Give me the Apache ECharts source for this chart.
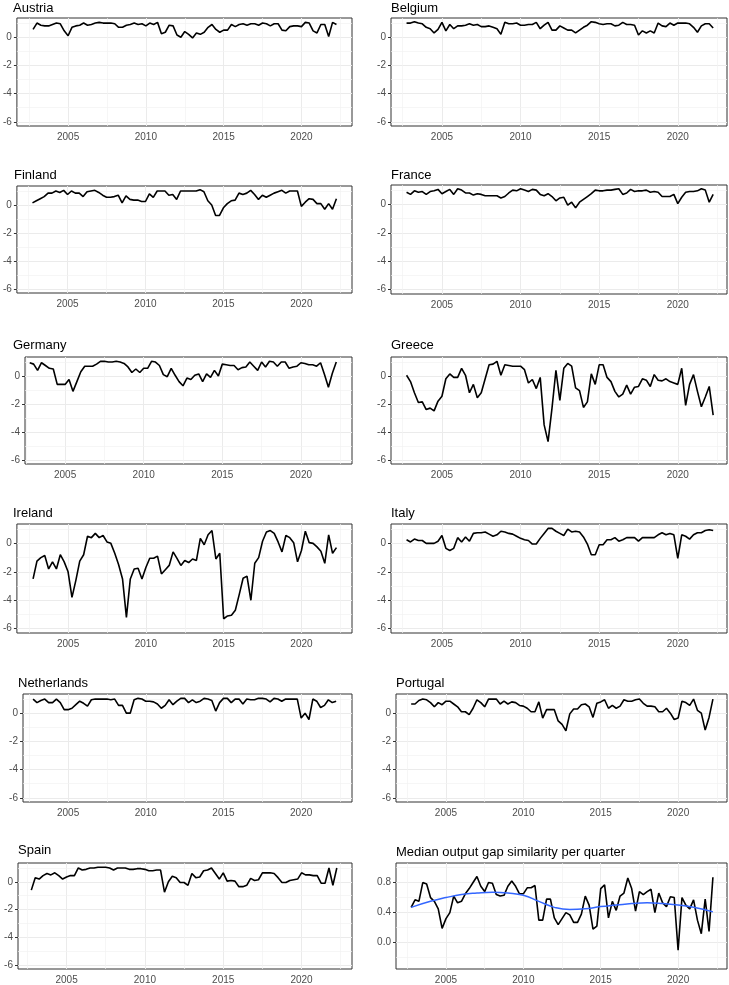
<!DOCTYPE html>
<html><head><meta charset="utf-8">
<script src="https://cdn.jsdelivr.net/npm/echarts@6/dist/echarts.min.js"></script>
<style>html,body{margin:0;padding:0;background:#fff}#c{width:729px;height:985px}</style>
</head><body><div id="c"></div>
<script>
const quarters = ["2002Q4",
"2003Q1","2003Q2","2003Q3","2003Q4","2004Q1","2004Q2","2004Q3","2004Q4",
"2005Q1","2005Q2","2005Q3","2005Q4","2006Q1","2006Q2","2006Q3","2006Q4",
"2007Q1","2007Q2","2007Q3","2007Q4","2008Q1","2008Q2","2008Q3","2008Q4",
"2009Q1","2009Q2","2009Q3","2009Q4","2010Q1","2010Q2","2010Q3","2010Q4",
"2011Q1","2011Q2","2011Q3","2011Q4","2012Q1","2012Q2","2012Q3","2012Q4",
"2013Q1","2013Q2","2013Q3","2013Q4","2014Q1","2014Q2","2014Q3","2014Q4",
"2015Q1","2015Q2","2015Q3","2015Q4","2016Q1","2016Q2","2016Q3","2016Q4",
"2017Q1","2017Q2","2017Q3","2017Q4","2018Q1","2018Q2","2018Q3","2018Q4",
"2019Q1","2019Q2","2019Q3","2019Q4","2020Q1","2020Q2","2020Q3","2020Q4",
"2021Q1","2021Q2","2021Q3","2021Q4","2022Q1","2022Q2"];

const austria = [0.55,1.0,0.85,0.8,0.8,0.9,1.0,0.95,0.45,0.1,
0.7,0.8,0.85,1.0,0.85,0.9,1.0,1.05,1.0,1.0,
1.0,0.95,0.7,0.7,0.85,0.9,1.0,0.9,0.95,0.8,
1.0,0.9,1.05,0.25,0.35,0.85,0.8,0.15,0.0,0.4,
0.2,-0.05,0.3,0.2,0.35,0.7,0.9,0.55,0.35,0.5,
0.5,0.9,0.75,0.9,0.95,0.85,0.95,0.95,0.85,1.0,
0.95,0.8,0.95,0.95,0.5,0.45,0.75,0.8,0.8,0.75,
1.05,1.0,0.45,0.3,0.9,0.9,0.05,1.05,0.9];
const belgium = [1.0,1.0,1.1,1.0,0.95,0.7,0.6,0.3,0.55,1.05,
0.45,0.9,0.6,0.8,0.8,0.85,0.95,0.85,0.9,0.75,
0.75,0.8,0.7,0.6,0.2,1.05,0.95,0.95,1.0,0.85,
0.85,0.9,0.9,1.05,0.6,0.85,1.05,0.5,0.5,0.8,
0.65,0.5,0.5,0.3,0.5,0.7,0.85,1.1,1.05,0.95,
0.9,0.95,0.95,0.8,0.85,1.05,0.9,0.9,0.85,0.15,
0.45,0.3,0.45,0.3,1.0,0.8,0.75,1.0,0.85,1.0,
1.0,1.0,0.95,0.7,0.35,0.8,0.95,0.95,0.65];
const finland = [0.15,0.3,0.45,0.6,0.85,0.85,1.0,0.9,1.05,0.75,
1.0,0.85,0.85,0.6,0.95,1.0,1.05,0.9,0.7,0.55,
0.55,0.6,0.7,0.15,0.65,0.4,0.35,0.35,0.25,0.25,
0.8,0.55,1.0,1.0,1.0,0.7,0.75,0.4,1.0,1.0,
1.0,1.0,1.0,1.1,0.95,0.3,0.0,-0.75,-0.75,-0.2,
0.1,0.3,0.35,0.85,0.75,0.85,1.05,0.75,0.4,0.7,
0.55,0.7,0.85,0.95,1.05,0.85,1.0,1.0,1.0,-0.1,
0.2,0.45,0.4,0.1,0.1,-0.3,0.1,-0.3,0.45];
const france = [0.85,0.7,0.95,0.85,0.9,0.7,0.9,0.95,1.05,0.75,
0.9,1.05,0.7,1.1,1.0,0.8,0.8,0.65,0.75,0.7,
0.6,0.6,0.6,0.6,0.45,0.55,0.8,1.0,0.95,1.1,
1.0,0.9,1.05,1.0,0.7,0.6,0.75,0.55,0.25,0.45,
0.5,-0.05,0.15,-0.25,0.15,0.35,0.55,0.75,1.0,0.95,
0.95,1.0,1.0,1.05,1.1,0.7,0.8,1.05,0.9,0.95,
0.95,1.0,0.85,0.9,0.85,0.55,0.55,0.55,0.7,0.05,
0.5,0.85,0.9,0.9,0.95,1.1,1.0,0.15,0.7];
const germany = [0.95,0.85,0.4,0.95,0.75,0.55,0.5,-0.6,-0.6,-0.6,
-0.25,-1.1,-0.4,0.3,0.7,0.7,0.7,0.85,1.05,1.05,
1.0,1.0,1.05,1.0,0.9,0.65,0.25,0.5,0.25,0.55,
0.55,1.05,1.0,0.75,0.1,-0.05,0.55,0.05,-0.4,-0.7,
-0.15,-0.25,0.05,0.15,-0.4,0.15,-0.1,0.4,0.0,0.85,
0.8,0.75,0.75,0.45,0.6,0.65,1.0,0.7,0.4,1.0,
0.65,1.05,1.0,0.7,1.0,1.0,0.55,0.65,0.7,0.95,
0.9,0.8,0.8,0.7,0.95,0.1,-0.8,0.2,1.0];
const greece = [0.05,-0.4,-1.2,-1.9,-1.85,-2.4,-2.3,-2.5,-1.8,-1.45,
-0.2,0.15,-0.1,-0.1,0.55,0.05,-1.2,-0.6,-1.55,-1.2,
-0.2,0.8,0.85,1.05,0.05,0.8,0.75,0.7,0.7,0.7,
0.45,-0.5,-0.25,-0.9,-0.1,-3.5,-4.7,-2.3,0.4,-1.75,
0.55,0.9,0.7,-0.85,-1.05,-2.25,-1.85,0.15,-0.6,0.8,
0.8,-0.1,-0.4,-1.1,-1.5,-1.3,-0.65,-1.3,-0.8,-0.75,
-0.2,-0.3,-0.75,0.1,-0.3,-0.35,-0.2,-0.4,-0.5,-0.6,
0.55,-2.1,-0.6,0.1,-1.1,-2.2,-1.5,-0.75,-2.8];
const ireland = [-2.5,-1.25,-1.0,-0.85,-1.8,-1.3,-1.8,-0.8,-1.3,-2.0,
-3.8,-2.6,-1.25,-0.8,0.5,0.4,0.7,0.4,0.55,0.1,
0.0,-0.7,-1.5,-2.5,-5.2,-2.5,-1.8,-1.75,-2.5,-1.7,
-1.05,-1.05,-0.9,-2.15,-1.85,-1.55,-0.6,-1.05,-1.55,-1.2,
-1.35,-1.1,-1.2,0.35,-0.1,0.6,0.9,-1.1,-0.7,-5.3,
-5.1,-5.05,-4.7,-3.6,-2.45,-2.3,-4.0,-1.4,-1.0,0.15,
0.8,0.9,0.7,0.1,-0.6,0.55,0.4,0.05,-1.3,-0.5,
0.85,0.05,0.0,-0.25,-0.55,-1.4,0.6,-0.7,-0.3];
const italy = [0.25,0.1,0.3,0.2,0.2,0.0,0.0,0.0,0.15,0.55,
-0.35,-0.5,-0.35,0.4,0.1,0.45,0.15,0.7,0.75,0.75,
0.8,0.65,0.5,0.6,0.85,0.8,0.7,0.65,0.5,0.35,
0.25,0.2,-0.05,-0.05,0.35,0.7,1.05,1.05,0.85,0.7,
0.55,1.0,0.8,0.85,0.8,0.45,-0.05,-0.8,-0.8,-0.1,
-0.1,0.25,0.25,0.4,0.15,0.25,0.4,0.4,0.4,0.15,
0.4,0.4,0.4,0.4,0.6,0.75,0.6,0.7,0.6,-1.05,
0.6,0.5,0.3,0.6,0.75,0.75,0.9,0.95,0.9];
const netherlands = [1.0,0.75,0.9,1.0,0.75,0.75,1.0,0.75,0.25,0.25,
0.35,0.6,0.85,0.7,0.5,0.95,1.0,1.0,1.0,1.0,
0.95,1.0,0.55,0.55,0.0,0.0,0.95,1.05,1.0,0.85,
0.85,0.8,0.65,0.35,0.55,0.95,0.6,0.85,1.05,1.05,
0.75,0.95,0.75,0.85,1.05,1.0,0.9,0.15,0.75,1.05,
1.05,0.75,1.0,1.0,0.65,1.0,0.95,0.95,1.05,1.05,
1.0,0.8,1.05,1.0,0.85,1.0,1.0,1.0,1.0,-0.35,
0.0,-0.45,1.0,0.85,0.4,0.55,0.95,0.75,0.85];
const portugal = [0.65,0.65,0.9,1.0,0.95,0.75,0.45,0.75,0.6,0.85,
0.85,0.65,0.45,0.1,0.1,-0.1,0.35,0.95,0.75,0.45,
1.0,1.0,1.0,0.65,0.85,0.65,0.8,0.75,0.55,0.5,
0.35,0.1,0.1,0.8,-0.35,0.25,0.25,0.25,-0.55,-0.8,
-1.25,-0.05,0.3,0.3,0.6,0.65,0.45,-0.3,0.7,0.8,
0.95,0.35,0.55,0.35,0.5,0.95,0.85,0.85,0.95,1.0,
0.7,0.5,0.5,0.45,0.1,0.1,0.35,0.0,-0.45,-0.35,
0.85,0.75,0.55,1.0,0.2,0.0,-1.2,-0.3,1.0];
const spain = [-0.6,0.3,0.2,0.45,0.6,0.5,0.65,0.45,0.2,0.35,
0.45,0.45,1.0,0.85,0.9,1.0,1.0,1.05,1.05,1.05,
1.0,0.85,1.0,1.0,1.0,0.9,0.9,0.95,0.95,0.9,
0.8,0.8,0.85,0.85,-0.75,0.0,0.4,0.3,-0.05,-0.05,
-0.25,0.6,0.3,0.35,0.8,0.85,1.0,0.6,0.2,0.65,
0.05,0.1,0.05,-0.35,-0.35,-0.25,0.25,0.1,0.15,0.65,
0.65,0.65,0.6,0.3,-0.05,-0.05,0.1,0.15,0.2,0.65,
0.5,0.5,0.45,0.45,-0.1,-0.1,1.0,-0.25,1.0];
const median = [0.47,0.57,0.55,0.8,0.78,0.6,0.55,0.45,0.19,0.32,
0.4,0.62,0.53,0.55,0.65,0.72,0.8,0.88,0.75,0.68,
0.8,0.79,0.64,0.62,0.63,0.75,0.82,0.75,0.65,0.65,
0.73,0.73,0.76,0.3,0.3,0.58,0.58,0.33,0.24,0.32,
0.4,0.37,0.27,0.27,0.38,0.62,0.5,0.18,0.22,0.72,
0.77,0.33,0.55,0.43,0.62,0.66,0.86,0.72,0.42,0.68,
0.64,0.68,0.71,0.4,0.66,0.53,0.48,0.61,0.6,-0.1,
0.6,0.5,0.45,0.57,0.3,0.12,0.58,0.15,0.87];
const smoothYears = [2002.75,2004,2005,2006,2007,2008,2009,2010,2011,2012,2013,2014,2015,2016,2017,2018,2019,2020,2021,2022.25];
const smoothValues = [0.47,0.55,0.6,0.64,0.66,0.67,0.66,0.63,0.55,0.47,0.44,0.45,0.48,0.5,0.52,0.53,0.52,0.5,0.47,0.41];

const xTicks = [2005, 2010, 2015, 2020];
const xMinor = [2002.5, 2007.5, 2012.5, 2017.5, 2022.5];
const yTicks = [-6, -4, -2, 0];
const yMinor = [-5, -3, -1, 1];
const yTicksMedian = [0, 0.4, 0.8];
const yMinorMedian = [-0.2, 0.2, 0.6, 1.0];

const names = ["Austria","Belgium","Finland","France","Germany","Greece","Ireland","Italy","Netherlands","Portugal","Spain","Median output gap similarity per quarter"];
const seriesData = [austria,belgium,finland,france,germany,greece,ireland,italy,netherlands,portugal,spain,median];

// layout: grid [left, top, width, height], title [left, top], x extent, y extent
const layout = [
 {g:[13,18,339,108],  t:[13,1.5],  x:[2001.71,2023.25], y:[-6.3,1.36]},
 {g:[391,18,336,108], t:[391,1.5], x:[2001.76,2023.13], y:[-6.3,1.36]},
 {g:[14,186,338,107], t:[14,168.5],  x:[2001.75,2023.25], y:[-6.3,1.36]},
 {g:[391,185,336,109],t:[391,168.5], x:[2001.76,2023.13], y:[-6.3,1.36]},
 {g:[25,357,327,107], t:[13,339],x:[2002.45,2023.25], y:[-6.3,1.36]},
 {g:[391,357,336,107],t:[391,339],x:[2001.76,2023.13], y:[-6.3,1.36]},
 {g:[13,524,339,109], t:[13,506.5],  x:[2001.71,2023.25], y:[-6.3,1.36]},
 {g:[391,524,336,109],t:[391,506.5], x:[2001.76,2023.13], y:[-6.3,1.36]},
 {g:[23,694,329,108], t:[18,676.5],  x:[2002.1,2023.27],  y:[-6.3,1.36]},
 {g:[396,694,331,108],t:[396,676.5], x:[2001.77,2023.16], y:[-6.3,1.36]},
 {g:[18,863,334,109], t:[18,844],x:[2001.9,2023.22],  y:[-6.3,1.36]},
 {g:[396,863,331,108],t:[396,845.5], x:[2001.77,2023.16], y:[-0.35,1.06]}
];

const FONT = '"Liberation Sans", Arial, Helvetica, sans-serif';
const qx = quarters.map(q => { const y = parseInt(q.slice(0,4),10); const n = parseInt(q.slice(5),10); return y + (n-1)/4; });

const option = {animation:false, backgroundColor:'#fff', title:[], grid:[], xAxis:[], yAxis:[], series:[]};
layout.forEach((L, i) => {
  const isMed = i === 11;
  const yt = isMed ? yTicksMedian : yTicks;
  const ym = isMed ? yMinorMedian : yMinor;
  option.title.push({text:names[i], left:L.t[0], top:L.t[1], padding:0,
    textStyle:{fontSize:13, fontWeight:'normal', color:'#000', fontFamily:FONT}});
  option.grid.push({left:L.g[0], top:L.g[1], width:L.g[2], height:L.g[3], show:true,
    borderColor:'#333333', borderWidth:1, backgroundColor:'#fff', containLabel:false});
  option.xAxis.push({type:'value', gridIndex:i, min:L.x[0], max:L.x[1],
    axisLine:{show:false}, splitLine:{show:false},
    axisTick:{show:true, length:3, customValues:xTicks, lineStyle:{color:'#333333', width:1}},
    axisLabel:{show:true, customValues:xTicks, color:'#4D4D4D', fontSize:10, margin:6, fontFamily:FONT, formatter:v=>String(v)}});
  option.yAxis.push({type:'value', gridIndex:i, min:L.y[0], max:L.y[1],
    axisLine:{show:false}, splitLine:{show:false},
    axisTick:{show:true, length:3, customValues:yt, lineStyle:{color:'#333333', width:1}},
    axisLabel:{show:true, customValues:yt, color:'#4D4D4D', fontSize:10, margin:5, fontFamily:FONT,
      formatter: v => isMed ? Number(v).toFixed(1) : String(v)}});
  const pts = qx.map((x, j) => [x, seriesData[i][j]]);
  const gl = [];
  const major = {color:'#EBEBEB', width:1, type:'solid'};
  const minor = {color:'#F2F2F2', width:0.7, type:'solid'};
  yt.forEach(v => gl.push({yAxis:v, lineStyle:major}));
  xTicks.forEach(v => gl.push({xAxis:v, lineStyle:major}));
  ym.forEach(v => gl.push({yAxis:v, lineStyle:minor}));
  xMinor.forEach(v => { if (v > L.x[0] && v < L.x[1]) gl.push({xAxis:v, lineStyle:minor}); });
  option.series.push({type:'line', xAxisIndex:i, yAxisIndex:i, data:pts, symbol:'none', silent:true, z:1,
    lineStyle:{opacity:0},
    markLine:{silent:true, z:1, symbol:['none','none'], label:{show:false}, animation:false,
      lineStyle:{type:'solid'}, emphasis:{disabled:true}, data:gl}});
  option.series.push({type:'line', xAxisIndex:i, yAxisIndex:i, data:pts, symbol:'none', showSymbol:false, silent:true, z:6,
    lineStyle:{color:'#000', width:1.6}});
  if (isMed) {
    option.series.push({type:'line', xAxisIndex:i, yAxisIndex:i, data:smoothYears.map((x,j)=>[x, smoothValues[j]]),
      symbol:'none', showSymbol:false, smooth:0.5, silent:true, z:7, lineStyle:{color:'#3366FF', width:1.5}});
  }
});
const chart = echarts.init(document.getElementById('c'), null, {renderer:'canvas'});
chart.setOption(option);
</script>
</body></html>
